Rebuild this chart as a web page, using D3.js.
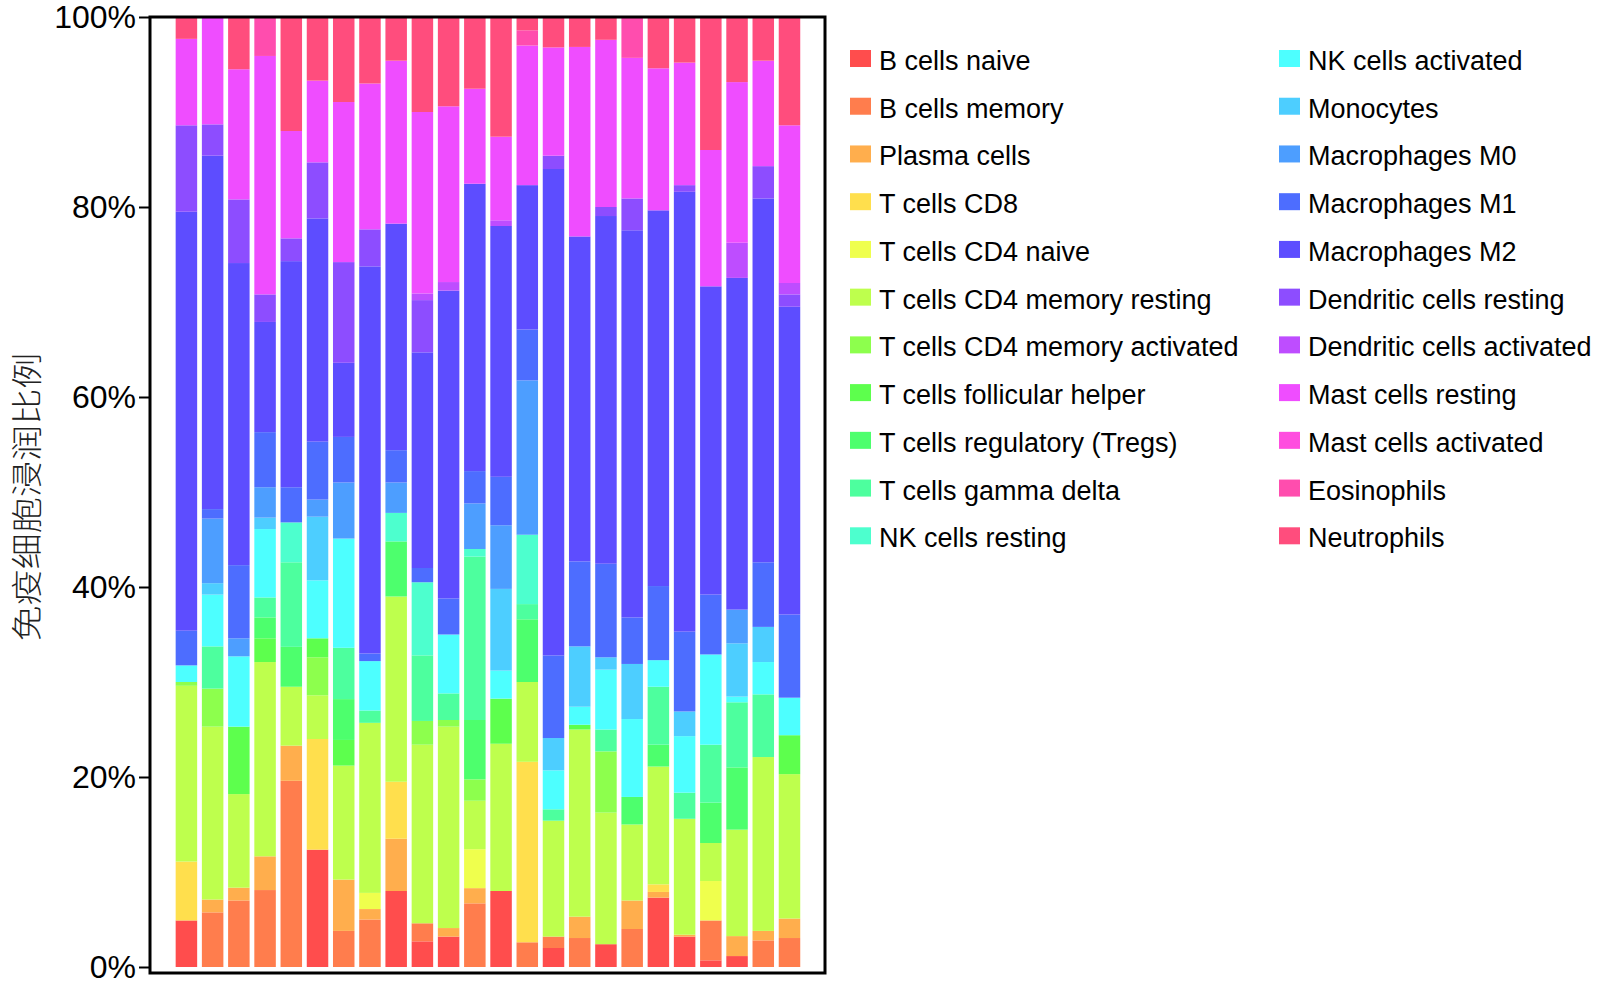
<!DOCTYPE html>
<html>
<head>
<meta charset="utf-8">
<script src="https://cdn.jsdelivr.net/npm/d3@7"></script>
<style>
  body { margin: 0; background: #fff; }
  svg { display: block; }
</style>
</head>
<body>
<svg id="chart" width="1600" height="986"></svg>
<script>
// samples (no labels shown on the x axis)
const samples = ['S1', 'S2', 'S3', 'S4', 'S5', 'S6', 'S7', 'S8', 'S9', 'S10', 'S11', 'S12',
  'S13', 'S14', 'S15', 'S16', 'S17', 'S18', 'S19', 'S20', 'S21', 'S22', 'S23', 'S24'];

const cellTypes = [
  'B cells naive', 'B cells memory', 'Plasma cells', 'T cells CD8', 'T cells CD4 naive',
  'T cells CD4 memory resting', 'T cells CD4 memory activated', 'T cells follicular helper',
  'T cells regulatory (Tregs)', 'T cells gamma delta', 'NK cells resting', 'NK cells activated',
  'Monocytes', 'Macrophages M0', 'Macrophages M1', 'Macrophages M2', 'Dendritic cells resting',
  'Dendritic cells activated', 'Mast cells resting', 'Mast cells activated', 'Eosinophils', 'Neutrophils'
];

// percentages per sample
const bCellsNaive   = [4.9, 0, 0, 0, 0, 12.35, 0, 0, 8.0, 2.7, 3.2, 0, 8.0, 0, 2.0, 0, 2.4, 0, 7.3, 3.2, 0.7, 1.15, 0, 0];
const bCellsMemory  = [0, 5.75, 7.0, 8.1, 19.6, 0, 3.8, 5.0, 0, 1.9, 0, 6.7, 0, 2.6, 1.2, 3.05, 0, 4.0, 0, 0, 4.2, 0, 2.8, 3.05];
const plasmaCells   = [0, 1.35, 1.35, 3.55, 3.7, 0, 5.4, 1.1, 5.5, 0, 0.9, 1.6, 0, 0, 0, 2.25, 0, 3.0, 0.6, 0.2, 0, 2.1, 1.0, 2.05];
const tCD8          = [6.2, 0, 0, 0, 0, 11.65, 0, 0, 6.0, 0, 0, 0, 0, 19.0, 0, 0, 0, 0, 0.8, 0, 0, 0, 0, 0];
const tCD4Naive     = [0, 0, 0, 0, 0, 0, 0, 1.7, 0, 0, 0, 4.1, 0, 0, 0, 0, 0, 0, 0, 0, 4.15, 0, 0, 0];
const tCD4MemRest   = [18.5, 18.2, 9.85, 20.45, 6.2, 4.6, 12.0, 17.9, 19.5, 18.8, 21.2, 5.1, 15.5, 8.4, 12.2, 19.7, 13.85, 8.0, 12.4, 12.2, 4.0, 11.2, 18.3, 15.2];
const tCD4MemAct    = [0.4, 4.0, 0, 0, 0, 4.0, 0, 0, 0, 2.5, 0.7, 2.25, 0, 0, 0, 0, 6.45, 0, 0, 0, 0, 0, 0, 0];
const tFollicular   = [0, 0, 7.1, 2.5, 0, 2.0, 2.7, 0, 0, 0, 0, 0, 4.75, 0, 0, 0.5, 0, 0, 0, 0, 0, 0, 0, 4.1];
const tRegs         = [0, 0, 0, 2.2, 4.2, 0, 4.3, 0, 5.8, 0, 0, 6.25, 0, 6.6, 0, 0, 0, 2.9, 2.3, 0, 4.25, 6.55, 0, 0];
const tGammaDelta   = [0, 4.45, 0, 2.1, 8.9, 0, 5.4, 1.3, 0, 6.9, 2.8, 17.2, 0, 1.6, 1.2, 0, 2.3, 0, 6.1, 2.75, 6.1, 6.85, 6.6, 0];
const nkResting     = [0, 0, 0, 0, 4.2, 0, 0, 0, 3.0, 7.7, 0, 0.8, 0, 7.3, 0, 0, 0, 0, 0, 0, 0, 0, 0, 0];
const nkActivated   = [1.75, 5.45, 7.4, 7.2, 0, 6.1, 11.5, 5.2, 0, 0, 6.2, 0, 2.95, 0, 4.1, 1.9, 6.3, 8.2, 2.8, 5.95, 9.5, 0.6, 3.4, 3.95];
const monocytes     = [0, 1.2, 0, 1.2, 0, 6.7, 0, 0, 0, 0, 0, 0, 8.6, 0, 3.4, 6.35, 1.3, 5.8, 0, 2.6, 0, 5.6, 3.7, 0];
const macroM0       = [0, 6.8, 1.9, 3.2, 0, 1.8, 5.9, 0, 3.2, 0, 0, 4.8, 6.7, 16.25, 0, 0, 0, 0, 0, 0, 0, 3.55, 0, 0];
const macroM1       = [3.65, 1.0, 7.7, 5.8, 3.7, 6.1, 4.8, 0.8, 3.4, 1.5, 3.8, 3.4, 5.1, 5.35, 8.7, 8.95, 9.85, 4.9, 7.8, 8.4, 6.3, 0, 6.8, 8.75];
const macroM2       = [44.1, 37.2, 31.8, 11.6, 23.8, 23.5, 7.8, 40.75, 23.85, 22.7, 32.4, 30.25, 26.4, 15.2, 51.2, 34.2, 36.6, 40.75, 39.55, 46.3, 32.45, 34.9, 38.3, 32.4];
const dcResting     = [9.1, 3.3, 6.7, 2.9, 2.4, 5.9, 10.6, 3.9, 0, 5.5, 0, 0, 0, 0, 1.4, 0, 0.95, 3.35, 0, 0.7, 0, 0, 3.4, 1.3];
const dcActivated   = [0, 0, 0, 0, 0, 0, 0, 0, 0, 0.7, 0.9, 0, 0.6, 0, 0, 0, 0, 0, 0, 0, 0, 3.7, 0, 1.2];
const mastResting   = [9.1, 11.3, 13.7, 25.1, 11.3, 8.6, 16.85, 15.35, 17.15, 19.1, 18.5, 10.0, 8.8, 14.7, 11.4, 19.95, 17.6, 14.8, 14.95, 12.9, 14.35, 16.9, 11.1, 16.6];
const mastActivated = [0, 0, 0, 0, 0, 0, 0, 0, 0, 0, 0, 0, 0, 0, 0, 0, 0, 0, 0, 0, 0, 0, 0, 0];
const eosinophils   = [0, 0, 0, 4.1, 0, 0, 0, 0, 0, 0, 0, 0, 0, 1.6, 0, 0, 0, 4.3, 0, 0, 0, 0, 0, 0];
const neutrophils   = [2.3, 0, 5.5, 0, 12.0, 6.7, 8.95, 7.0, 4.6, 10.0, 9.4, 7.55, 12.6, 1.4, 3.2, 3.15, 2.4, 0, 5.4, 4.8, 14.0, 6.85, 4.6, 11.4];

const seriesValues = [bCellsNaive, bCellsMemory, plasmaCells, tCD8, tCD4Naive, tCD4MemRest, tCD4MemAct,
  tFollicular, tRegs, tGammaDelta, nkResting, nkActivated, monocytes, macroM0, macroM1, macroM2,
  dcResting, dcActivated, mastResting, mastActivated, eosinophils, neutrophils];

const tickValues = [0, 0.2, 0.4, 0.6, 0.8, 1];
const tickLabels = ['0%', '20%', '40%', '60%', '80%', '100%'];
const yTitle = '免疫细胞浸润比例';

// R rainbow(22) with s = 0.7
const palette = ['#FF4D4D', '#FF7D4D', '#FFAE4D', '#FFDF4D', '#EFFF4D', '#BEFF4D', '#8DFF4D', '#5DFF4D',
  '#4DFF6D', '#4DFF9E', '#4DFFCE', '#4DFFFF', '#4DCEFF', '#4D9EFF', '#4D6DFF', '#5D4DFF',
  '#8D4DFF', '#BE4DFF', '#EF4DFF', '#FF4DDF', '#FF4DAE', '#FF4D7D'];

const svg = d3.select('#chart');
const font = 'Arial, "Liberation Sans", sans-serif';

const rows = samples.map((s, i) => {
  const row = { sample: s };
  cellTypes.forEach((c, j) => { row[c] = seriesValues[j][i]; });
  return row;
});

const series = d3.stack().keys(cellTypes).offset(d3.stackOffsetExpand)(rows);

const x = d3.scaleBand()
  .domain(samples)
  .range([173.3, 802.6])
  .paddingInner(0.18)
  .paddingOuter(0.09);

const y = d3.scaleLinear()
  .domain([0, 1])
  .range([967, 17]);

const color = d3.scaleOrdinal().domain(cellTypes).range(palette);

svg.append('g')
  .selectAll('g')
  .data(series)
  .join('g')
    .attr('fill', d => color(d.key))
  .selectAll('rect')
  .data(d => d)
  .join('rect')
    .attr('x', d => x(d.data.sample))
    .attr('y', d => y(d[1]))
    .attr('height', d => y(d[0]) - y(d[1]))
    .attr('width', x.bandwidth());

// frame round the plot
svg.append('rect')
  .attr('x', 150)
  .attr('y', 17)
  .attr('width', 675)
  .attr('height', 956)
  .attr('fill', 'none')
  .attr('stroke', '#000')
  .attr('stroke-width', 3);

const yAxis = svg.append('g')
  .attr('transform', 'translate(150,0)')
  .call(d3.axisLeft(y)
    .tickValues(tickValues)
    .tickFormat((d, i) => tickLabels[i])
    .tickSize(11)
    .tickPadding(3));
yAxis.select('.domain').remove();
yAxis.selectAll('.tick line').attr('stroke', '#000').attr('stroke-width', 2);
yAxis.selectAll('.tick text')
  .attr('fill', '#000')
  .style('font-family', font)
  .style('font-size', '32px');

svg.append('text')
  .attr('transform', 'translate(24,497) rotate(-90)')
  .attr('text-anchor', 'middle')
  .attr('dominant-baseline', 'central')
  .attr('textLength', 289)
  .attr('lengthAdjust', 'spacingAndGlyphs')
  .style('font-family', '"Noto Sans CJK SC", sans-serif')
  .style('font-size', '31px')
  .style('font-weight', 300)
  .attr('fill', '#222')
  .text(yTitle);

// legend, two columns of 11
const legendCols = [850, 1279];
const legend = svg.append('g')
  .selectAll('g')
  .data(cellTypes)
  .join('g')
    .attr('transform', (d, i) => `translate(${legendCols[Math.floor(i / 11)]},${50 + (i % 11) * 47.73})`);

legend.append('rect')
  .attr('width', 21)
  .attr('height', 17)
  .attr('fill', d => color(d));

legend.append('text')
  .attr('x', 29)
  .attr('y', 20)
  .style('font-family', font)
  .style('font-size', '27px')
  .attr('fill', '#000')
  .text(d => d);
</script>
</body>
</html>
